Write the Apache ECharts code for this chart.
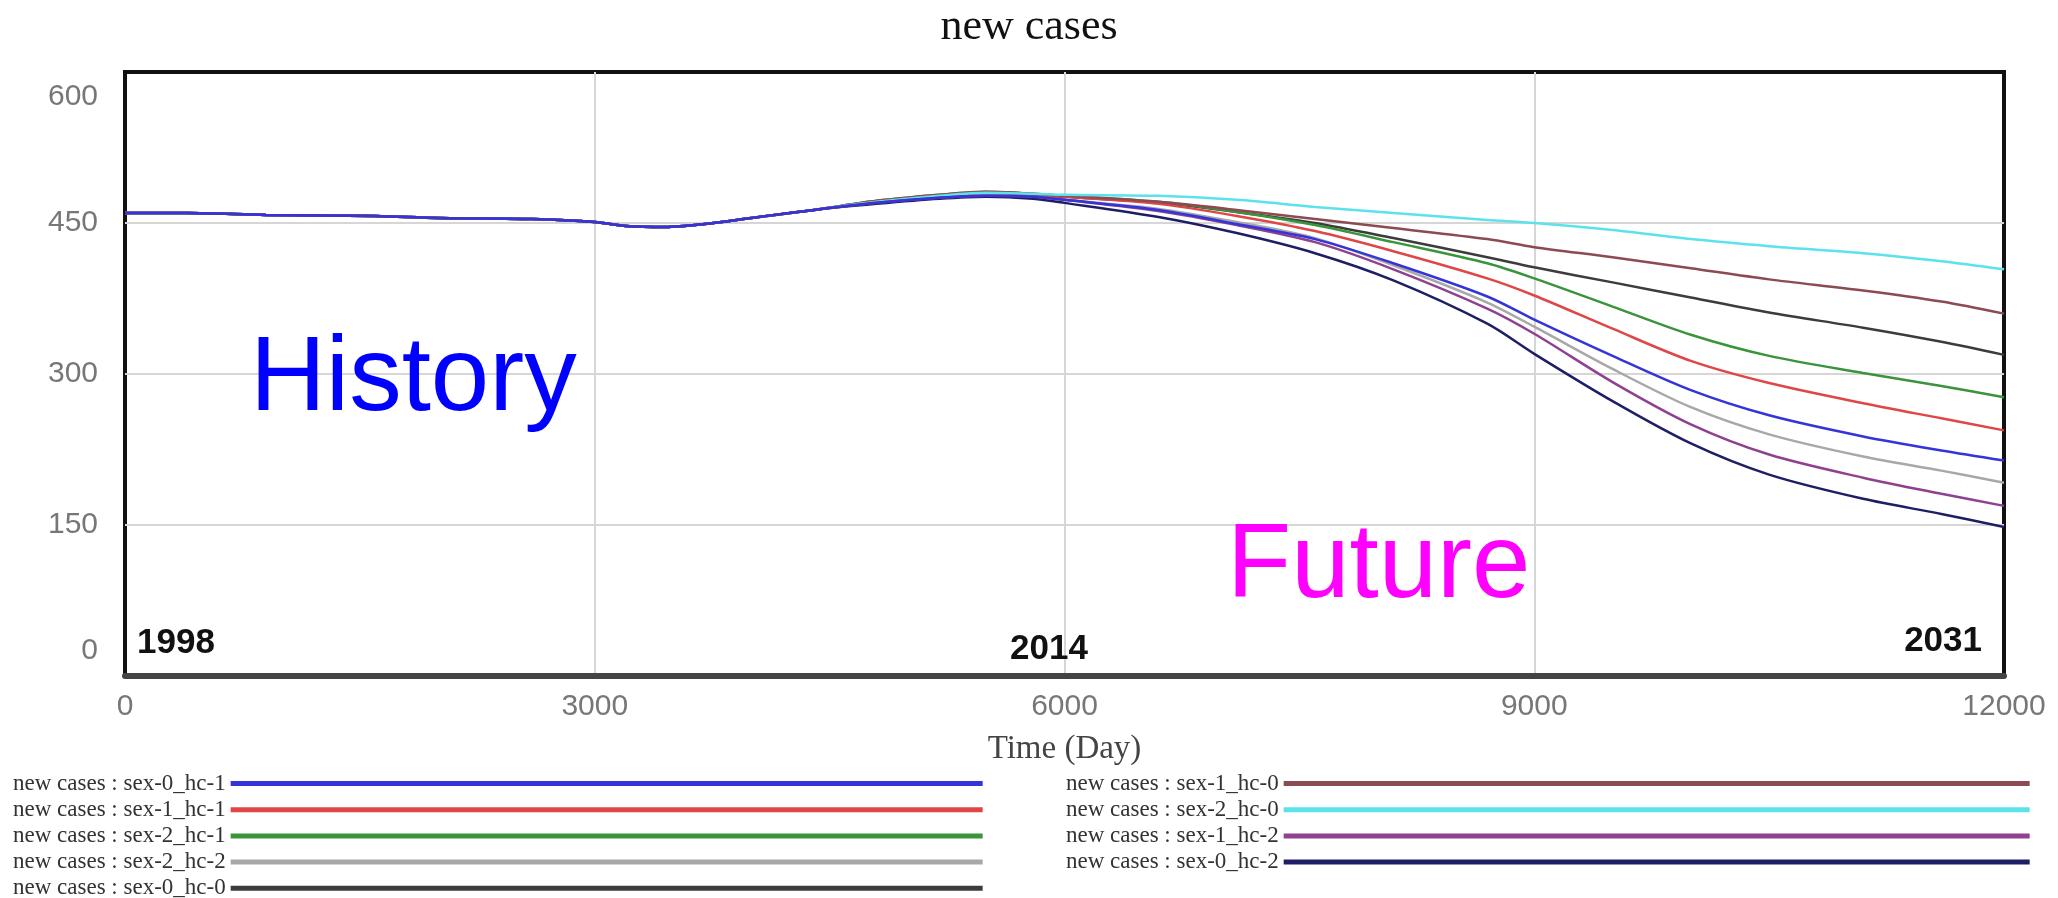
<!DOCTYPE html>
<html><head><meta charset="utf-8">
<script src="https://cdn.jsdelivr.net/npm/echarts@6/dist/echarts.min.js"></script>
<style>html,body{margin:0;padding:0;background:#fff}#c{width:2058px;height:898px}</style>
</head><body><div id="c"></div>
<script>
// ---- data ----
const days = [0,400,900,1600,2000,2600,3000,3200,3450,3700,4000,4400,4800,5200,5500,5800,6000,6600,7100,7600,8100,8700,9000,9500,10000,10500,11100,11600,12000];
const seriesNames = [
  'new cases : sex-0_hc-1','new cases : sex-1_hc-1','new cases : sex-2_hc-1','new cases : sex-2_hc-2','new cases : sex-0_hc-0',
  'new cases : sex-1_hc-0','new cases : sex-2_hc-0','new cases : sex-1_hc-2','new cases : sex-0_hc-2'
];
const sex0_hc1 = [460,460,458,457,455,454,451,447,446,449,455,463,470,475,477,476,473,463,449,434,410,377,354,318,284,259,238,224,214];
const sex1_hc1 = [460,460,458,457,455,454,451,447,446,449,455,463,471,477,480,478,476,469,457,442,422,395,378,345,313,291,271,256,244];
const sex2_hc1 = [460,460,458,457,455,454,451,447,446,449,455,463,472,478,481,479,477,471,461,448,431,410,395,367,339,318,301,288,277];
const sex2_hc2 = [460,460,458,457,455,454,451,447,446,449,455,463,470,476,478,476,473,464,451,435,408,371,347,305,267,240,218,204,192];
const sex0_hc0 = [460,460,458,457,455,454,451,447,446,449,455,463,471,477,480,478,476,470,461,450,435,416,406,391,376,361,346,332,319];
const sex1_hc0 = [460,460,458,457,455,454,451,447,446,449,455,463,472,478,481,479,477,471,463,454,445,434,426,416,405,394,383,372,360];
const sex2_hc0 = [460,460,458,457,455,454,451,447,446,449,455,463,471,477,480,479,478,477,473,466,460,453,450,443,434,427,420,412,404];
const sex1_hc2 = [460,460,458,457,455,454,451,447,446,449,455,463,470,475,477,476,473,462,448,431,404,365,340,292,250,220,197,181,169];
const sex0_hc2 = [460,460,458,457,455,454,451,447,446,449,455,463,469,474,476,474,470,456,440,420,393,350,320,273,231,200,176,161,148];
const xTicks = { min: 0, max: 12000, interval: 3000 };
const yTicks = { min: 0, max: 600, interval: 150 };

// ---- build ----
const valueSets = [sex0_hc1, sex1_hc1, sex2_hc1, sex2_hc2, sex0_hc0, sex1_hc0, sex2_hc0, sex1_hc2, sex0_hc2];
const colors = ['#3434d8','#e04646','#3a943a','#a8a8a8','#3c3c3c','#8c4a52','#5ce2ea','#904090','#1e1e66'];
const drawOrder = [4,3,2,1,5,6,8,7,0];

const series = drawOrder.map((k, j) => ({
  name: seriesNames[k],
  type: 'line',
  data: days.map((d, i) => [d, valueSets[k][i]]),
  symbol: 'none',
  showSymbol: false,
  smooth: 0.3,
  z: 2 + j,
  lineStyle: { width: 2.5, color: colors[k] },
  itemStyle: { color: colors[k] }
}));

const legendCommon = {
  orient: 'vertical', top: 772, height: 200, padding: 0, itemHeight: 5, icon: 'rect', align: 'right',
  itemGap: 3.2, selectedMode: false,
  textStyle: { fontFamily: 'Liberation Serif', fontSize: 23, color: '#333', lineHeight: 20 }
};

const splitStyle = { show: true, showMinLine: false, showMaxLine: false, lineStyle: { color: '#d6d6d6', width: 2 } };

const option = {
  backgroundColor: '#fff',
  animation: false,
  title: {
    text: 'new cases', left: 'center', top: 0,
    textStyle: { fontFamily: 'Liberation Serif', fontSize: 44, fontWeight: 'normal', color: '#111' }
  },
  grid: { left: 125, right: 54, top: 72, bottom: 222, show: true, borderColor: '#111', borderWidth: 4, backgroundColor: '#fff' },
  xAxis: {
    type: 'value', min: xTicks.min, max: xTicks.max, interval: xTicks.interval,
    name: 'Time (Day)', nameLocation: 'middle', nameGap: 57,
    nameTextStyle: { fontFamily: 'Liberation Serif', fontSize: 33, color: '#444' },
    axisLine: { show: true, lineStyle: { color: '#444', width: 6 } },
    axisTick: { show: false },
    axisLabel: { margin: 16, fontFamily: 'Liberation Sans', fontSize: 30, color: '#777', formatter: v => String(v) },
    splitLine: splitStyle
  },
  yAxis: {
    type: 'value', min: yTicks.min, max: yTicks.max, interval: yTicks.interval,
    axisLine: { show: false }, axisTick: { show: false },
    axisLabel: {
      margin: 27, fontFamily: 'Liberation Sans', fontSize: 30, color: '#777', formatter: v => String(v),
      padding: [10, 0, 10, 0], verticalAlignMinLabel: 'bottom', verticalAlignMaxLabel: 'top'
    },
    splitLine: splitStyle
  },
  legend: [
    Object.assign({}, legendCommon, { data: seriesNames.slice(0, 5), left: 13, itemWidth: 752 }),
    Object.assign({}, legendCommon, { data: seriesNames.slice(5), left: 1066, itemWidth: 746 })
  ],
  series: series,
  graphic: { elements: [
    { type: 'text', x: 250, y: 381, z: 100, style: { text: 'History', fontFamily: 'Liberation Sans', fontSize: 105, fill: '#0000ff', align: 'left', verticalAlign: 'middle' } },
    { type: 'text', x: 1227, y: 568, z: 100, style: { text: 'Future', fontFamily: 'Liberation Sans', fontSize: 105, fill: '#ff00ff', align: 'left', verticalAlign: 'middle' } },
    { type: 'text', x: 137, y: 643, z: 100, style: { text: '1998', fontFamily: 'Liberation Sans', fontWeight: 'bold', fontSize: 35, fill: '#111', align: 'left', verticalAlign: 'middle' } },
    { type: 'text', x: 1049, y: 649, z: 100, style: { text: '2014', fontFamily: 'Liberation Sans', fontWeight: 'bold', fontSize: 35, fill: '#111', align: 'center', verticalAlign: 'middle' } },
    { type: 'text', x: 1982, y: 641, z: 100, style: { text: '2031', fontFamily: 'Liberation Sans', fontWeight: 'bold', fontSize: 35, fill: '#111', align: 'right', verticalAlign: 'middle' } }
  ] }
};

const chart = echarts.init(document.getElementById('c'), null, { renderer: 'canvas' });
chart.setOption(option);
</script>
</body></html>
